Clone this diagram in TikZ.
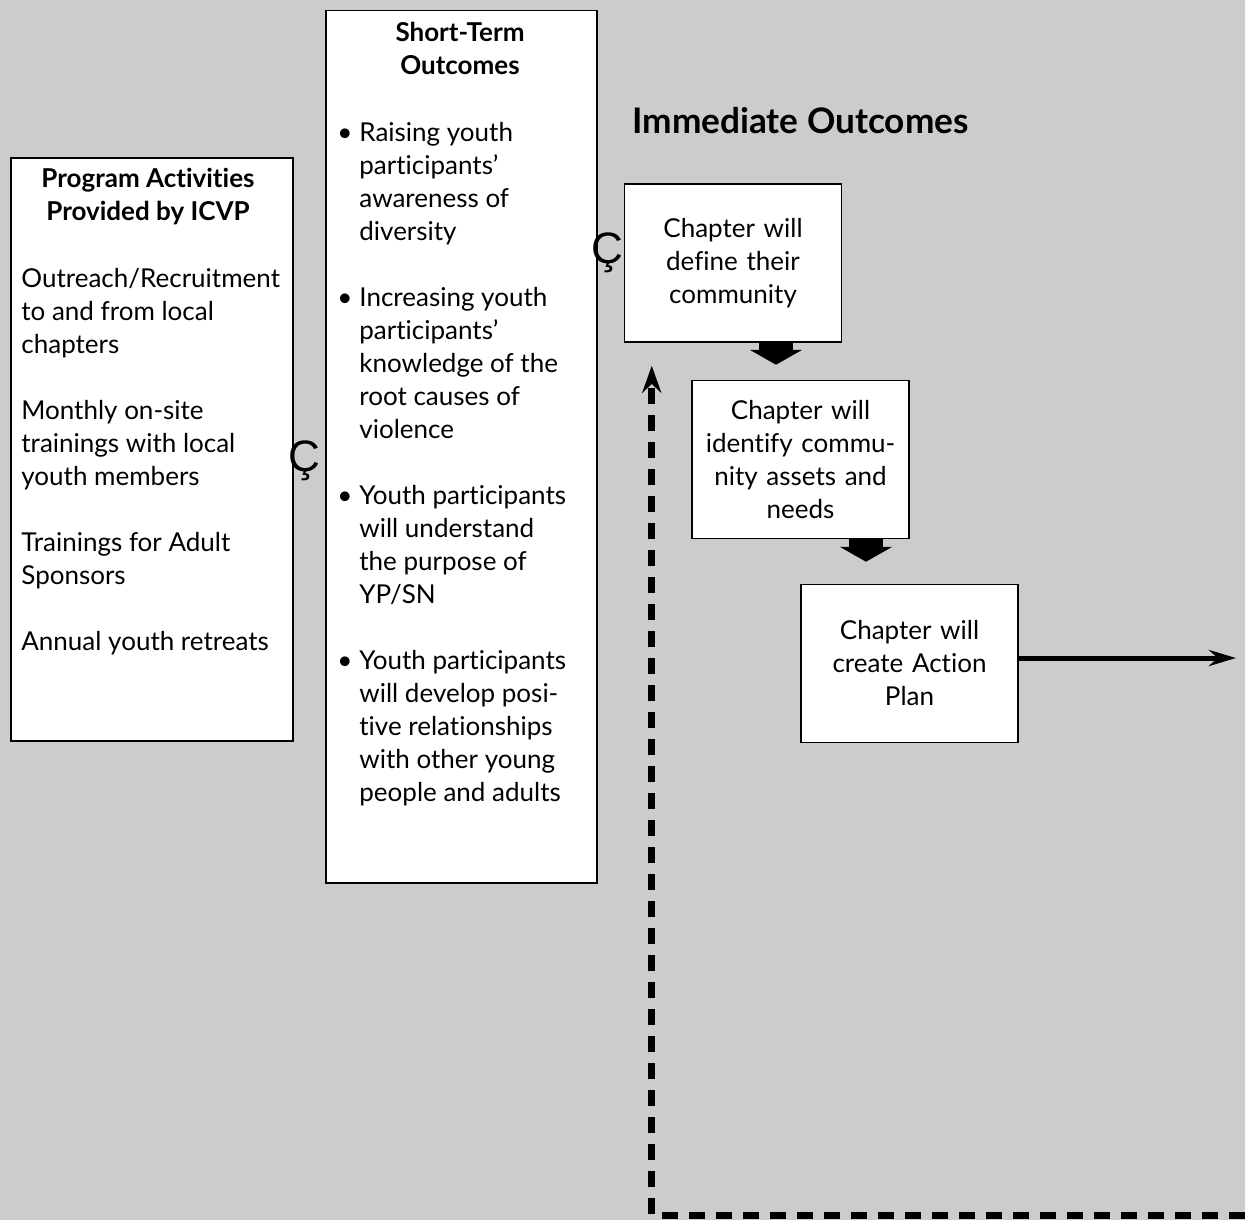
\documentclass[tikz,border=0pt]{standalone}
\usepackage{fontspec}
\setmainfont{Lato}[Ligatures=NoCommon]
\newfontfamily\glyphfont{Liberation Sans}
\usetikzlibrary{arrows.meta,calc,positioning}
\definecolor{bggray}{RGB}{204,204,204}
\newcommand{\itembul}{\makebox[11pt][l]{\textbullet}}
\newcommand{\itemind}{\hspace*{11pt}}

\begin{document}
\begin{tikzpicture}[x=0.5pt,y=-0.5pt,
    font=\fontsize{13}{16.5}\selectfont,
    bx/.style={draw,fill=white,line width=.75pt,inner sep=0pt,anchor=north west},
    ch/.style={draw,fill=white,line width=.75pt,minimum width=108.5pt,
      minimum height=79pt,text width=100pt,align=center,inner sep=0pt},
    hd/.style={font=\fontsize{13}{16.5}\selectfont\bfseries,align=center,
      inner sep=0pt,anchor=north},
    tx/.style={align=left,inner sep=0pt,anchor=north west},
    mk/.style={font=\glyphfont\fontsize{22}{22}\selectfont,inner sep=0pt,anchor=base},
    blk/.style={line width=17pt,-{Triangle[length=7.5pt,width=26pt]}},
    ar/.style={line width=2.5pt,-{Stealth[length=13.5pt,width=8pt]}},
    fb/.style={line width=3.5pt,dash pattern=on 8pt off 5.5pt,
      -{Stealth[length=13.5pt,width=9.5pt]}}]
  \useasboundingbox (0,0) rectangle (1245,1220);
  \fill[bggray] (0,0) rectangle (1245,1220);

  % program activities
  \node[bx,minimum width=141pt,minimum height=291.5pt] (acts) at (10,157) {};
  \node[hd] (actshead) at (148,168) {Program Activities\\Provided by ICVP};
  \node[tx] (actslist) at (21,268)
    {Outreach/Recruitment\\to and from local\\chapters\\[16.5pt]
     Monthly on-site\\trainings with local\\youth members\\[16.5pt]
     Trainings for Adult\\Sponsors\\[16.5pt]
     Annual youth retreats};
  \node[mk] (mark1) at (304,471) {Ç};

  % short-term outcomes
  \node[bx,minimum width=135.5pt,minimum height=436pt] (outc) at (325,10) {};
  \node[hd] (outchead) at (460,22) {Short-Term\\Outcomes};
  \node[tx] (outclist) at (337,122)
    {\itembul Raising youth\\\itemind participants'\\\itemind awareness of\\\itemind diversity\\[16.5pt]
     \itembul Increasing youth\\\itemind participants'\\\itemind knowledge of the\\\itemind root causes of\\\itemind violence\\[16.5pt]
     \itembul Youth participants\\\itemind will understand\\\itemind the purpose of\\\itemind YP/SN\\[16.5pt]
     \itembul Youth participants\\\itemind will develop posi-\\\itemind tive relationships\\\itemind with other young\\\itemind people and adults};
  \node[mk] (mark2) at (607,263) {Ç};

  % immediate outcomes
  \node[font=\fontsize{17.6}{20}\selectfont\bfseries,inner sep=0pt,anchor=west]
    (imhead) at (632,121) {Immediate Outcomes};
  \node[ch] (ch1) at (733,263) {Chapter will\\define their\\community};
  \node[ch] (ch2) at (800.5,459.5) {Chapter will\\identify commu-\\nity assets and\\needs};
  \node[ch] (ch3) at (909.5,663.5) {Chapter will\\create Action\\Plan};

  \draw[blk,shorten >=7.5pt] ([xshift=21.5pt]ch1.south) -- ([xshift=21.5pt]ch1.south |- ch2.north);
  \draw[blk,shorten >=11pt] ([xshift=32.75pt]ch2.south) -- ([xshift=32.75pt]ch2.south |- ch3.north);

  \coordinate (exitpt) at (1236,658);
  \draw[ar] (ch3.east |- exitpt) -- (exitpt);

  \coordinate (loopin) at (1245,1215);
  \draw[fb] (loopin) -| ([shift={(28,23)}]ch1.south west);
\end{tikzpicture}
\end{document}
